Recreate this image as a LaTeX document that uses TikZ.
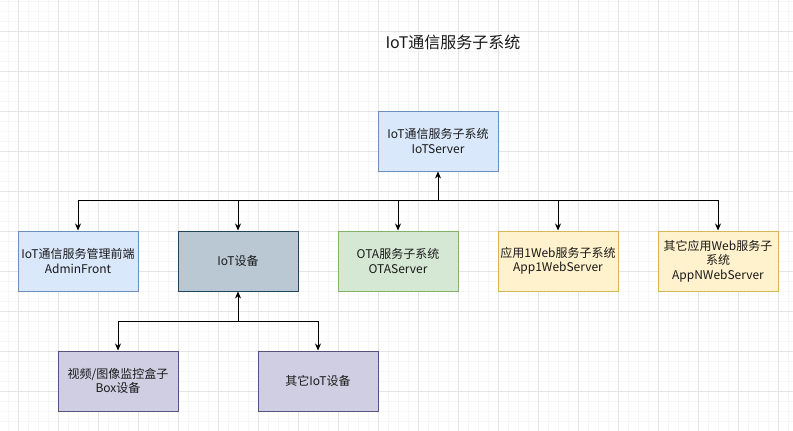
\documentclass[tikz,border=0pt]{standalone}
\usepackage{fontspec}
\setmainfont{Noto Sans CJK SC}
\usetikzlibrary{arrows.meta}
\newlength{\du}
\setlength{\du}{1pt}

\begin{document}
\begin{tikzpicture}
\pgftransformxscale{1.000000}
\pgftransformyscale{-1.000000}
\definecolor{gridminor}{rgb}{0.965000, 0.965000, 0.965000}
\definecolor{gridmajor}{rgb}{0.900000, 0.900000, 0.900000}
\definecolor{bluefill}{HTML}{DAE8FC}
\definecolor{blueline}{HTML}{6C8EBF}
\definecolor{greyfill}{HTML}{BAC8D3}
\definecolor{greyline}{HTML}{23445D}
\definecolor{greenfill}{HTML}{D5E8D4}
\definecolor{greenline}{HTML}{82B366}
\definecolor{yellowfill}{HTML}{FFF2CC}
\definecolor{yellowline}{HTML}{D6B656}
\definecolor{purplefill}{HTML}{D0CEE2}
\definecolor{purpleline}{HTML}{56517E}
\definecolor{textcolor}{rgb}{0.100000, 0.100000, 0.100000}
\tikzset{
  box/.style={draw, line width=1\du, minimum width=120\du, minimum height=60\du,
    inner sep=0pt, align=center, text=textcolor,
    font=\fontsize{12}{14.5}\selectfont},
  arr/.style={line width=1\du, -{Stealth[length=7pt,width=6pt]}}
}
\useasboundingbox (0\du,0\du) rectangle (793\du,431\du);
% grid
\foreach \x in {8,18,...,788} \draw[gridminor, line width=0.6\du] (\x\du,0\du)--(\x\du,431\du);
\foreach \y in {1,11,...,431} \draw[gridminor, line width=0.6\du] (0\du,\y\du)--(793\du,\y\du);
\foreach \x in {18,58,...,778} \draw[gridmajor, line width=0.8\du] (\x\du,0\du)--(\x\du,431\du);
\foreach \y in {31,71,...,431} \draw[gridmajor, line width=0.8\du] (0\du,\y\du)--(793\du,\y\du);
% title
\node[text=textcolor, font=\fontsize{16}{18}\selectfont] (title) at (453.000000\du,42.000000\du){IoT通信服务子系统};
% server
\node[box, fill=bluefill, draw=blueline] (server) at (438.000000\du,141.000000\du){IoT通信服务子系统\\IoTServer};
% second row
\node[box, fill=bluefill, draw=blueline] (admin) at (78.000000\du,261.000000\du){IoT通信服务管理前端\\AdminFront};
\node[box, fill=greyfill, draw=greyline] (iotdev) at (238.000000\du,261.000000\du){IoT设备};
\node[box, fill=greenfill, draw=greenline] (ota) at (398.000000\du,261.000000\du){OTA服务子系统\\OTAServer};
\node[box, fill=yellowfill, draw=yellowline] (appone) at (558.000000\du,261.000000\du){应用1Web服务子系统\\App1WebServer};
\node[box, fill=yellowfill, draw=yellowline] (appn) at (718.000000\du,261.000000\du){其它应用Web服务子\\系统\\AppNWebServer};
% devices
\node[box, fill=purplefill, draw=purpleline] (boxdev) at (118.000000\du,381.000000\du){视频/图像监控盒子\\Box设备};
\node[box, fill=purplefill, draw=purpleline] (otherdev) at (318.000000\du,381.000000\du){其它IoT设备};
% connectors
\coordinate (topbus) at (438.000000\du,200.000000\du);
\coordinate (devbus) at (238.000000\du,321.000000\du);
\draw[arr] (topbus)--(server.south);
\foreach \n in {admin,iotdev,ota,appone,appn}
  \draw[arr] (topbus)-|(\n.north);
\draw[arr] (devbus)--(iotdev.south);
\draw[arr] (devbus)-|(boxdev.north);
\draw[arr] (devbus)-|(otherdev.north);
\end{tikzpicture}
\end{document}
